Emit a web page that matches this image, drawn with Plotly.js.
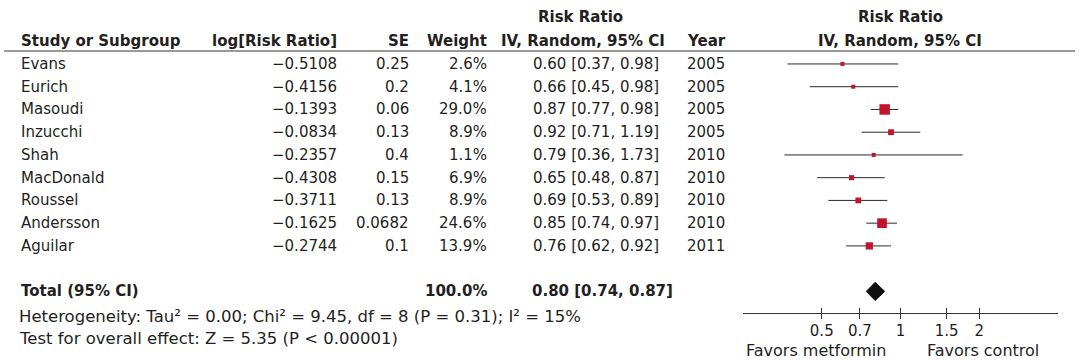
<!DOCTYPE html>
<html><head><meta charset="utf-8">
<script src="https://cdn.plot.ly/plotly-3.0.1.min.js"></script>
<style>html,body{margin:0;padding:0;background:#fff}#chart{width:1080px;height:360px}</style>
</head><body><div id="chart"></div>
<script>
const studies = ["Evans","Eurich","Masoudi","Inzucchi","Shah","MacDonald","Roussel","Andersson","Aguilar"];
const logRR = [-0.5108,-0.4156,-0.1393,-0.0834,-0.2357,-0.4308,-0.3711,-0.1625,-0.2744];
const seVals = ["0.25","0.2","0.06","0.13","0.4","0.15","0.13","0.0682","0.1"];
const weights = [2.6,4.1,29.0,8.9,1.1,6.9,8.9,24.6,13.9];
const rr = [0.60,0.66,0.87,0.92,0.79,0.65,0.69,0.85,0.76];
const lo = [0.37,0.45,0.77,0.71,0.36,0.48,0.53,0.74,0.62];
const hi = [0.98,0.98,0.98,1.19,1.73,0.87,0.89,0.97,0.92];
const years = [2005,2005,2005,2005,2010,2010,2010,2010,2011];
const totalLabel = "Total (95% CI)";
const totalWeight = "100.0%";
const totalRR = 0.80, totalLo = 0.74, totalHi = 0.87;
const heterogeneity = "Heterogeneity: Tau² = 0.00; Chi² = 9.45, df = 8 (P = 0.31); I² = 15%";
const overallTest = "Test for overall effect: Z = 5.35 (P < 0.00001)";
const tickVals = [0.5,0.7,1,1.5,2];
const tickText = ["0.5","0.7","1","1.5","2"];
const favorsLeft = "Favors metformin", favorsRight = "Favors control";

const W = 1080, H = 360;
const px = p => p / W;
const py = p => (H - p) / H;
const rows = studies.map((_, i) => i);
const totalRow = 10;
const TXT = '#231f20';
const F = {family: 'DejaVu Sans', size: 15, color: TXT};
const FB = {family: 'DejaVu Sans', size: 15, color: TXT, weight: 'bold'};
const FW = {family: 'DejaVu Sans', size: 16.5, color: TXT};
const FF = {family: 'DejaVu Sans', size: 16, color: TXT};
const minus = s => s.replace('-', '\u2212');

const ann = [];
function A(text, x, y, xanchor, font, yref) {
  ann.push({text, x: px(x), xref: 'paper', y: y, yref: yref || 'y', xanchor, yanchor: 'middle', showarrow: false, font});
}
// headers
A('Risk Ratio', 580, py(17), 'center', FB, 'paper');
A('Risk Ratio', 900, py(17), 'center', FB, 'paper');
A('Study or Subgroup', 19, py(41), 'left', FB, 'paper');
A('log[Risk Ratio]', 339, py(41), 'right', FB, 'paper');
A('SE', 411, py(41), 'right', FB, 'paper');
A('Weight', 489, py(41), 'right', FB, 'paper');
A('IV, Random, 95% CI', 583, py(41), 'center', FB, 'paper');
A('Year', 728, py(41), 'right', FB, 'paper');
A('IV, Random, 95% CI', 900, py(41), 'center', FB, 'paper');
// rows
rows.forEach(i => {
  A(studies[i], 19, i, 'left', F);
  A(minus(logRR[i].toFixed(4)), 339, i, 'right', F);
  A(seVals[i], 411, i, 'right', F);
  A(weights[i].toFixed(1) + '%', 489, i, 'right', F);
  A(rr[i].toFixed(2) + ' [' + lo[i].toFixed(2) + ', ' + hi[i].toFixed(2) + ']', 531, i, 'left', F);
  A(String(years[i]), 685, i, 'left', F);
});
A(totalLabel, 19, totalRow, 'left', FB);
A(totalWeight, 489, totalRow, 'right', FB);
A(totalRR.toFixed(2) + ' [' + totalLo.toFixed(2) + ', ' + totalHi.toFixed(2) + ']', 530, totalRow, 'left', FB);
A(heterogeneity, 17, py(316.5), 'left', FW, 'paper');
A(overallTest, 17, py(338.5), 'left', FW, 'paper');
A(favorsLeft, 888, py(350), 'right', FF, 'paper');
A(favorsRight, 925, py(350), 'left', FF, 'paper');

const studyTrace = {
  type: 'scatter', mode: 'markers', x: rr, y: rows,
  marker: {symbol: 'square', color: '#c4142c', opacity: 1, size: weights.map(w => Math.max(4, 1.95 * Math.sqrt(w))), line: {width: 0}},
  error_x: {type: 'data', symmetric: false, array: hi.map((h, i) => h - rr[i]), arrayminus: lo.map((l, i) => rr[i] - l), width: 0, thickness: 1, color: '#2a2a2a'},
  hoverinfo: 'skip', cliponaxis: false
};
const dh = 0.4;
const diamond = {
  type: 'scatter', mode: 'lines', fill: 'toself', fillcolor: '#111',
  x: [totalLo, totalRR, totalHi, totalRR, totalLo],
  y: [totalRow, totalRow - dh, totalRow, totalRow + dh, totalRow],
  line: {color: '#111', width: 1}, hoverinfo: 'skip'
};
const ticksUp = {type: 'scatter', x: [], y: [], xaxis: 'x2', yaxis: 'y', hoverinfo: 'skip'};

const xr = [Math.log10(0.25), Math.log10(4)];
const layout = {
  width: W, height: H, margin: {l: 0, r: 0, t: 0, b: 0},
  paper_bgcolor: '#fff', plot_bgcolor: 'rgba(0,0,0,0)', showlegend: false,
  xaxis: {type: 'log', range: xr, domain: [px(743), px(1058)], tickvals: tickVals, ticktext: tickText,
          ticks: 'outside', ticklen: 5, tickcolor: '#333', tickwidth: 1, showline: true, linecolor: '#333', linewidth: 1,
          showgrid: false, zeroline: false, tickfont: F, ticklabelstandoff: -1, anchor: 'y', fixedrange: true},
  xaxis2: {type: 'log', range: xr, domain: [px(743), px(1058)], overlaying: 'x', anchor: 'y', tickvals: tickVals,
           ticks: 'inside', ticklen: 5, tickcolor: '#333', tickwidth: 1, showticklabels: false, showline: false,
           showgrid: false, zeroline: false, side: 'bottom'},
  yaxis: {range: [10.95, -0.57], domain: [py(313), py(51)], showgrid: false, zeroline: false, showline: false,
          showticklabels: false, ticks: '', fixedrange: true},
  shapes: [
    {type: 'line', xref: 'paper', yref: 'paper', x0: px(4), x1: px(1075), y0: py(51), y1: py(51), line: {color: '#777', width: 1.5}},
    {type: 'line', xref: 'x', yref: 'y domain', x0: 0, x1: 0, y0: 0, y1: 1, line: {color: '#222', width: 1}}
  ],
  annotations: ann
};
Plotly.newPlot('chart', [studyTrace, diamond, ticksUp], layout, {staticPlot: true, displayModeBar: false});
</script></body></html>
